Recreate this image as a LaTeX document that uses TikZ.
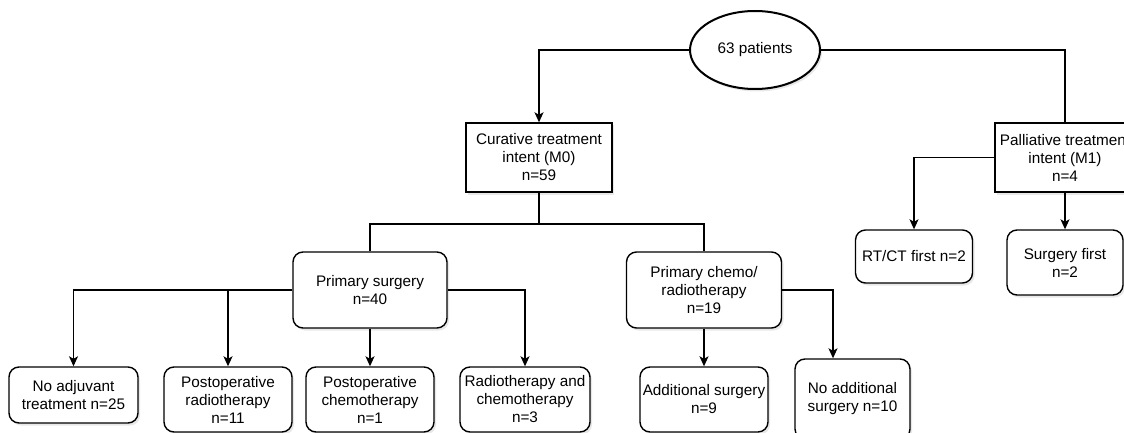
\documentclass[tikz,border=0pt]{standalone}
\usepackage{fontspec}
\setmainfont{Liberation Sans}
\usetikzlibrary{arrows.meta,shapes.geometric,shadows}
\begin{document}
\begin{tikzpicture}[x=1pt,y=-1pt,
	every node/.style={draw,line width=1.4pt,align=center,inner sep=2pt,fill=white,
	font=\fontsize{15.3}{18}\selectfont,
	drop shadow={shadow xshift=2pt,shadow yshift=-2.5pt,opacity=0.18}},
	box/.style 2 args={rectangle,minimum width=#1,minimum height=#2},
	rbox/.style 2 args={rectangle,rounded corners=10pt,minimum width=#1,minimum height=#2},
	link/.style={line width=1.3pt,-{Stealth[length=10pt,width=9pt,inset=2.5pt]}},
	plain/.style={line width=1.3pt},
	bus/.style={line width=2.6pt}]
\useasboundingbox (0,0) rectangle (1124,433);
\node[ellipse,line width=2pt,minimum width=130,minimum height=78] (pat) at (755,50) {63 patients};
\node[box={146}{69}] (cur) at (539,157.5) {Curative treatment\\intent (M0)\\n=59};
\node[box={140}{69}] (pal) at (1065,157.5) {Palliative treatment\\intent (M1)\\n=4};
\node[rbox={154}{76}] (psurg) at (370,290) {Primary surgery\\n=40};
\node[rbox={155}{76}] (pchemo) at (704,290) {Primary chemo/\\radiotherapy\\n=19};
\node[rbox={129}{56}] (noadj) at (73.5,395) {No adjuvant\\treatment n=25};
\node[rbox={128}{65}] (porad) at (228,399.5) {Postoperative\\radiotherapy\\n=11};
\node[rbox={128}{65}] (pochem) at (370,399.5) {Postoperative\\chemotherapy\\n=1};
\node[rbox={130}{65}] (radchem) at (525,399.5) {Radiotherapy and\\chemotherapy\\n=3};
\node[rbox={128}{65}] (addsurg) at (704,399.5) {Additional surgery\\n=9};
\node[rbox={115}{80}] (noadd) at (852.5,399) {No additional\\surgery n=10};
\node[rbox={117}{53}] (rtct) at (914,256.5) {RT/CT first n=2};
\node[rbox={116}{65}] (sfirst) at (1065,262.5) {Surgery first\\n=2};
\coordinate (split) at (539,224);
\draw[link] (pat) -| (cur);
\draw[plain] (pat) -| (pal);
\draw[bus] (cur) -- (split) (psurg) |- (split) -| (pchemo);
\draw[link] (psurg) -| (noadj);
\draw[link] (psurg) -| (porad);
\draw[link] (psurg) -- (pochem);
\draw[link] (psurg) -| (radchem);
\draw[link] (pchemo) -- (addsurg);
\draw[link] (pchemo) -| ([xshift=-19.5pt]noadd.north);
\draw[link] (pal) -| (rtct);
\draw[link] (pal) -- (sfirst);
\end{tikzpicture}
\end{document}
